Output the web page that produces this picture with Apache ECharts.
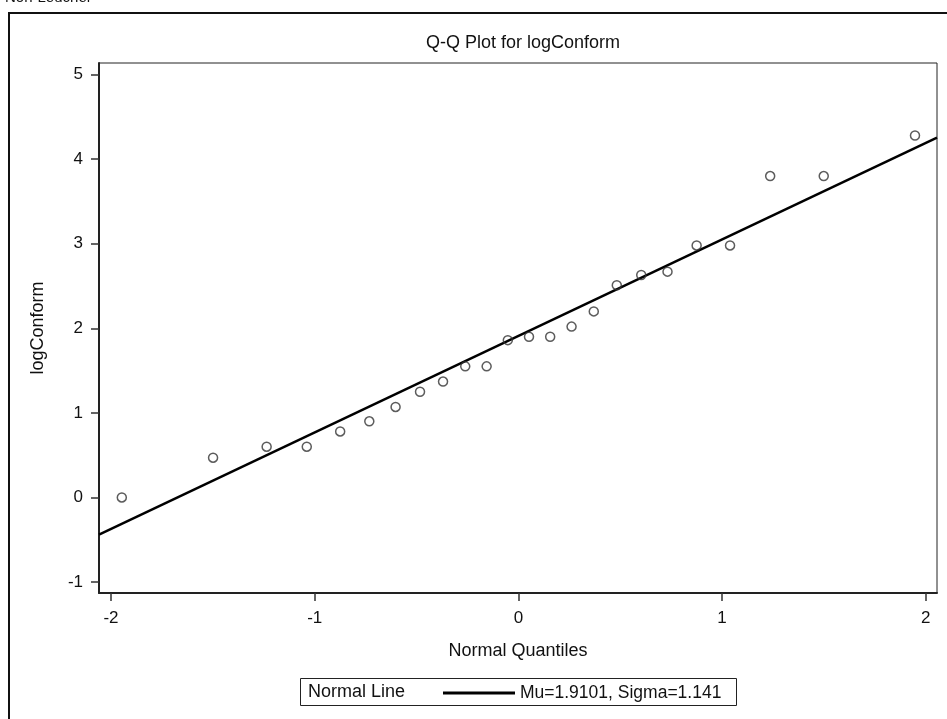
<!DOCTYPE html>
<html>
<head>
<meta charset="utf-8">
<script src="https://cdn.jsdelivr.net/npm/echarts@6/dist/echarts.min.js"></script>
<style>
  html, body { margin: 0; padding: 0; background: #fff; }
  #main { width: 947px; height: 719px; }
</style>
</head>
<body>
<div id="main"></div>
<script>
var quantiles = [-1.947, -1.499, -1.236, -1.039, -0.875, -0.732, -0.603, -0.483, -0.370, -0.261, -0.156, -0.052,
  0.052, 0.156, 0.261, 0.370, 0.483, 0.603, 0.732, 0.875, 1.039, 1.236, 1.499, 1.947]
var logConform = [0.00, 0.47, 0.60, 0.60, 0.78, 0.90, 1.07, 1.25, 1.37, 1.55, 1.55, 1.86,
  1.90, 1.90, 2.02, 2.20, 2.51, 2.63, 2.67, 2.98, 2.98, 3.80, 3.80, 4.28]
var xTicks = [-2, -1, 0, 1, 2]
var yTicks = [-1, 0, 1, 2, 3, 4, 5]
var mu = 1.9101
var sigma = 1.141

var xMin = -2.059, xMax = 2.055
var yMin = -1.13, yMax = 5.137

var points = quantiles.map(function (q, i) { return [q, logConform[i]] })
// reference line y = mu + sigma * q
var normalLine = [[xMin, mu + sigma * xMin], [xMax, mu + sigma * xMax]]

var font = '"Liberation Sans", Arial, sans-serif'
var chart = echarts.init(document.getElementById('main'), null, { renderer: 'canvas' })

var option = {
  backgroundColor: '#fff',
  animation: false,
  title: {
    text: 'Q-Q Plot for logConform',
    left: 518,
    textAlign: 'center',
    top: 29,
    textStyle: { fontFamily: font, fontSize: 18, fontWeight: 'normal', color: '#111' }
  },
  grid: {
    left: 99, right: 10, top: 63, bottom: 126,
    show: true, borderColor: '#222', borderWidth: 1
  },
  xAxis: {
    type: 'value', min: xMin, max: xMax,
    name: 'Normal Quantiles', nameLocation: 'middle', nameGap: 49,
    nameTextStyle: { fontFamily: font, fontSize: 18, color: '#111' },
    splitLine: { show: false },
    axisLine: { onZero: false, lineStyle: { color: '#222', width: 2 } },
    axisTick: { customValues: xTicks, length: 8, lineStyle: { color: '#333', width: 1.5 } },
    axisLabel: { customValues: xTicks, margin: 17, fontFamily: font, fontSize: 17, color: '#111' }
  },
  yAxis: {
    type: 'value', min: yMin, max: yMax,
    name: 'logConform', nameLocation: 'middle', nameGap: 52,
    nameTextStyle: { fontFamily: font, fontSize: 18, color: '#111' },
    splitLine: { show: false },
    axisLine: { onZero: false, lineStyle: { color: '#222', width: 2 } },
    axisTick: { customValues: yTicks, length: 8, lineStyle: { color: '#333', width: 1.5 } },
    axisLabel: { customValues: yTicks, margin: 16, fontFamily: font, fontSize: 17, color: '#111' }
  },
  legend: {
    left: 438, top: 679,
    itemWidth: 72, itemHeight: 3,
    data: [{ name: 'Mu=1.9101, Sigma=1.141', icon: 'rect' }],
    textStyle: { fontFamily: font, fontSize: 17.5, color: '#111' }
  },
  graphic: [
    {
      type: 'rect', silent: true,
      shape: { x: 9, y: 13, width: 1000, height: 1000 },
      style: { fill: 'none', stroke: '#111', lineWidth: 2 }
    },
    {
      type: 'text', silent: true, x: 5, y: -10,
      style: { text: 'Non-Leucher', font: '15px ' + font, fill: '#111', verticalAlign: 'top' }
    },
    {
      type: 'rect', silent: true,
      shape: { x: 300.5, y: 678.5, width: 436, height: 27 },
      style: { fill: 'none', stroke: '#222', lineWidth: 1 }
    },
    {
      type: 'text', silent: true, left: 308, top: 683,
      style: { text: 'Normal Line', font: '18px ' + font, fill: '#111' }
    }
  ],
  series: [
    {
      name: 'Mu=1.9101, Sigma=1.141',
      type: 'line',
      data: normalLine,
      showSymbol: false,
      lineStyle: { color: '#000', width: 2.5 },
      itemStyle: { color: '#000' },
      z: 2
    },
    {
      name: 'logConform',
      type: 'scatter',
      data: points,
      symbol: 'circle',
      symbolSize: 9,
      itemStyle: { color: 'rgba(255,255,255,0)', borderColor: '#333', borderWidth: 1.5 },
      z: 3
    }
  ]
}

chart.setOption(option)
</script>
</body>
</html>
